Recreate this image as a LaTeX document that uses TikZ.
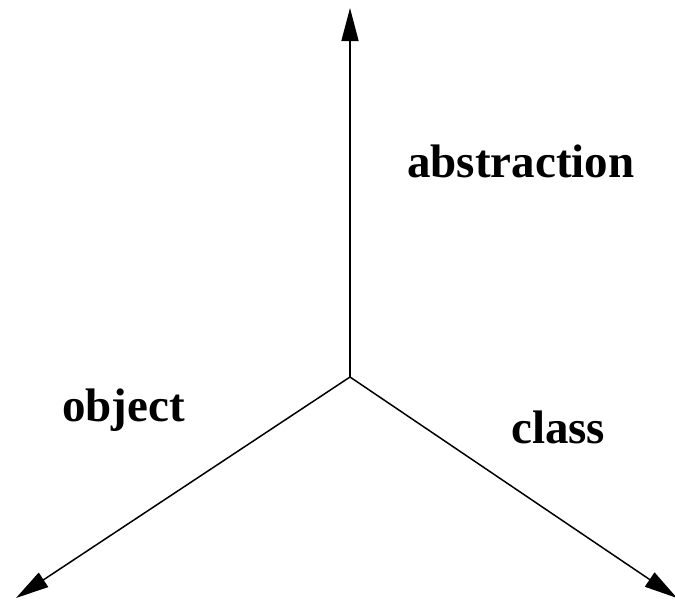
\documentclass[tikz,border=0pt]{standalone}
\usepackage{fontspec}
\setmainfont{Liberation Serif}
\usetikzlibrary{arrows.meta}
\begin{document}
\begin{tikzpicture}[x=1pt,y=-1pt,
  axis/.style={line width=1.5pt,-{Triangle[length=33pt,width=17pt]}},
  lbl/.style={anchor=base west,inner sep=0pt,font=\fontsize{47}{50}\selectfont\bfseries}]
\useasboundingbox (0,0) rectangle (675,600);
\coordinate (o) at (350,377);
\coordinate (up) at (350,8);
\coordinate (left) at (16,598);
\coordinate (right) at (677,598);
\draw[axis] (o) -- (up);
\draw[axis] (o) -- (left);
\draw[axis] (o) -- (right);
\node[lbl] (abs) at (407,177) {abstraction};
\node[lbl] (obj) at (62,421) {object};
\node[lbl] (cls) at (511,443) {class};
\end{tikzpicture}
\end{document}
